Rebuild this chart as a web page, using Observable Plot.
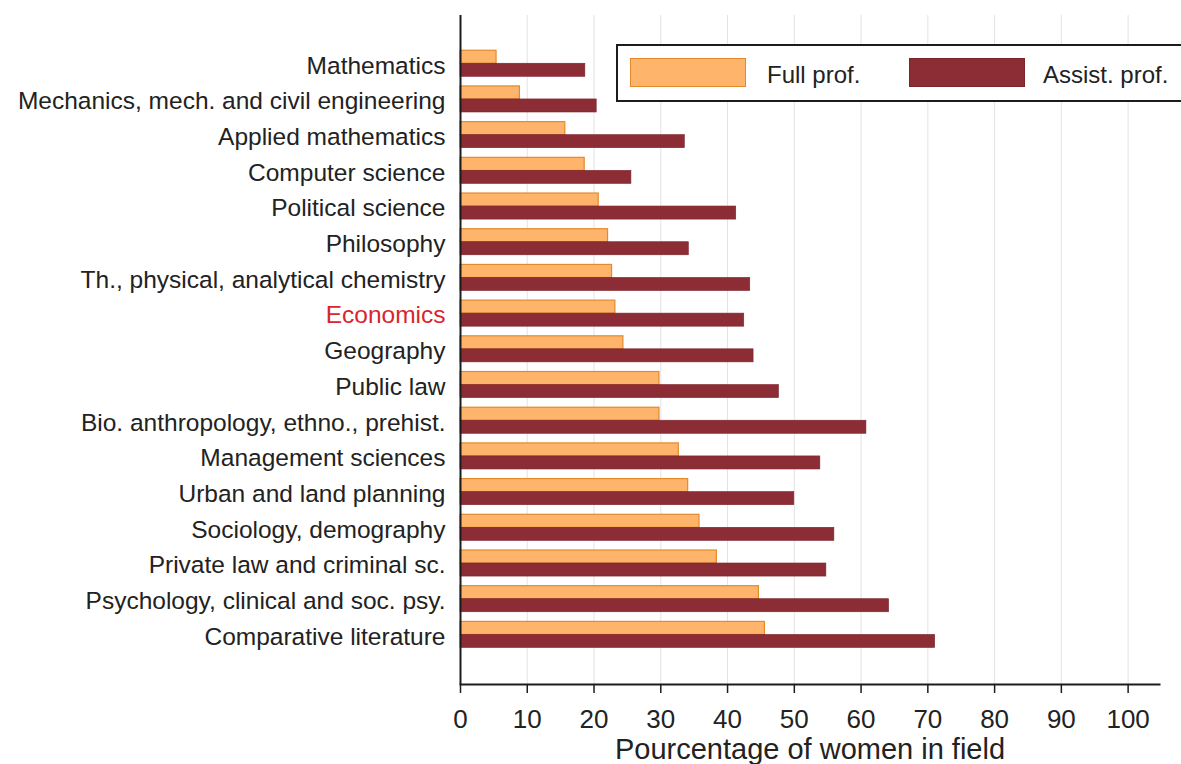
<!DOCTYPE html>
<html>
<head>
<meta charset="utf-8">
<script src="https://cdn.jsdelivr.net/npm/d3@7"></script>
<script src="https://cdn.jsdelivr.net/npm/@observablehq/plot@0.6"></script>
<style>
  html, body { margin: 0; padding: 0; background: #fff; overflow: hidden; }
  #wrap { position: relative; width: 1181px; height: 764px; overflow: hidden; font-family: "Liberation Sans", Arial, sans-serif; }
  #legend { position: absolute; left: 616px; top: 44px; width: 640px; height: 54px; border: 2px solid #1c1c1c; background: #fff; }
  .sw { position: absolute; top: 12px; width: 114px; height: 27px; }
  .lt { position: absolute; top: 12px; height: 29px; line-height: 29px; font-size: 24px; color: #222; padding-top: 2px; }
</style>
</head>
<body>
<div id="wrap">
  <div id="chart"></div>
  <div id="legend"></div>
</div>
<script>
const fields = [
  "Mathematics",
  "Mechanics, mech. and civil engineering",
  "Applied mathematics",
  "Computer science",
  "Political science",
  "Philosophy",
  "Th., physical, analytical chemistry",
  "Economics",
  "Geography",
  "Public law",
  "Bio. anthropology, ethno., prehist.",
  "Management sciences",
  "Urban and land planning",
  "Sociology, demography",
  "Private law and criminal sc.",
  "Psychology, clinical and soc. psy.",
  "Comparative literature"
];
const fullProf   = [5.4, 8.9, 15.7, 18.6, 20.7, 22.1, 22.7, 23.2, 24.4, 29.8, 29.8, 32.7, 34.1, 35.8, 38.4, 44.7, 45.6];
const assistProf = [18.7, 20.4, 33.6, 25.6, 41.3, 34.2, 43.4, 42.5, 43.9, 47.7, 60.8, 53.9, 50.0, 56.0, 54.8, 64.2, 71.1];
const xTicks = [0, 10, 20, 30, 40, 50, 60, 70, 80, 90, 100];
const seriesNames = ["Full prof.", "Assist. prof."];
const seriesFill = ["#ffb46c", "#8c2d35"];
const seriesStroke = ["#e38a2c", "#7c242c"];
const highlightField = "Economics";
const xTitle = "Pourcentage of women in field";

const rows = fields.map((f, i) => ({field: f, full: fullProf[i], assist: assistProf[i]}));

const chart = Plot.plot({
  width: 1181,
  height: 764,
  marginLeft: 460,
  marginRight: 22,
  marginTop: 15,
  marginBottom: 80,
  style: {fontFamily: "'Liberation Sans', Arial, sans-serif", color: "#222", background: "#fff", overflow: "visible"},
  x: {domain: [0, 104.7], label: null},
  y: {domain: fields, range: [40.6, 657.1], padding: 0.27, round: false, label: null},
  marks: [
    Plot.gridX({ticks: xTicks.filter(t => t > 0), stroke: "#e3e3e3", strokeOpacity: 1, strokeWidth: 1}),
    Plot.barX(rows, {x: "full", y: "field", fill: seriesFill[0], stroke: seriesStroke[0], strokeWidth: 1.2, insetBottom: 13}),
    Plot.barX(rows, {x: "assist", y: "field", fill: seriesFill[1], stroke: seriesStroke[1], strokeWidth: 0.6, insetTop: 13}),
    Plot.ruleX([0], {stroke: "#1c1c1c", strokeWidth: 2}),
    Plot.frame({anchor: "bottom", stroke: "#1c1c1c", strokeWidth: 2}),
    Plot.axisX({ticks: xTicks, tickSize: 9, tickPadding: 16, fontSize: 26, label: null, stroke: "#1c1c1c", strokeWidth: 1.5, fill: "#222"}),
    Plot.axisY({tickSize: 0, tickPadding: 15, fontSize: 24.5, label: null, dy: 2, fill: d => d === highlightField ? "#d8262c" : "#222"}),
    Plot.text([xTitle], {frameAnchor: "bottom", dy: 74, fontSize: 29, fill: "#222"})
  ]
});
document.getElementById("chart").appendChild(chart);

// legend inside plot area (HTML overlay)
const legend = document.getElementById("legend");
const swLeft = [12, 291], txLeft = [149, 425];
seriesNames.forEach((name, i) => {
  const sw = document.createElement("div");
  sw.className = "sw";
  sw.style.left = swLeft[i] + "px";
  sw.style.background = seriesFill[i];
  sw.style.border = "1px solid " + seriesStroke[i];
  legend.appendChild(sw);
  const t = document.createElement("div");
  t.className = "lt";
  t.style.left = txLeft[i] + "px";
  t.textContent = name;
  legend.appendChild(t);
});
</script>
</body>
</html>
